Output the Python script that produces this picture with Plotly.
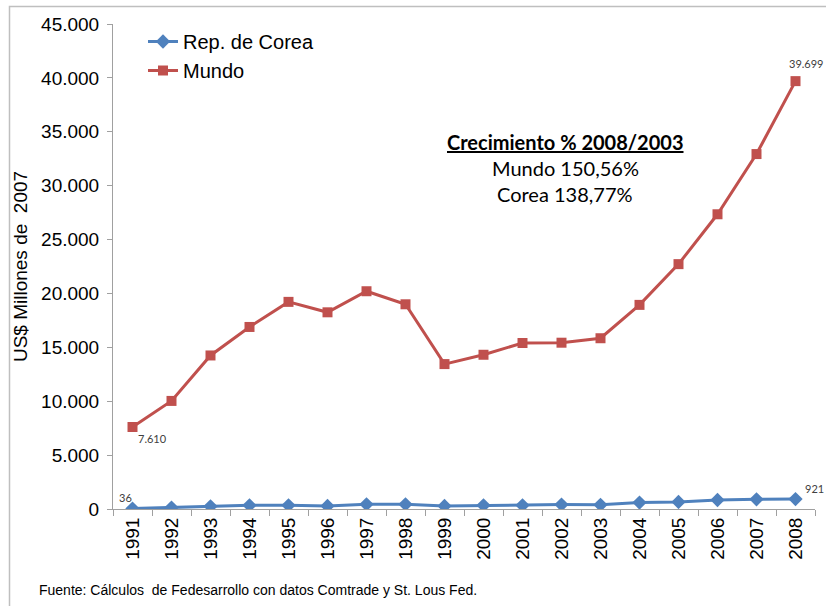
import plotly.graph_objects as go

years = [str(y) for y in range(1991, 2009)]
corea = [36, 130, 250, 345, 345, 280, 437, 437, 280, 345, 345, 410, 386, 595, 650, 837, 900, 921]
mundo = [7610, 10028, 14246, 16890, 19218, 18250, 20205, 18994, 13445, 14311, 15400, 15430,
         15844, 18939, 22719, 27346, 32933, 39699]

W, H = 826, 606
PL, PR, PT, PB = 113, 815, 24, 509          # plot area in pixels
L, T, R, B = PL, PT, W - PR, H - PB
pw, ph = PR - PL, PB - PT


def px(x):
    return (x - PL) / pw


def py(y):
    return (PB - y) / ph


fig = go.Figure()
fig.add_trace(go.Scatter(
    x=years, y=corea, name="Rep. de Corea", mode="lines+markers",
    line=dict(color="#4F81BD", width=3),
    marker=dict(symbol="diamond", size=11, color="#4F81BD"),
))
fig.add_trace(go.Scatter(
    x=years, y=mundo, name="Mundo", mode="lines+markers",
    line=dict(color="#C0504D", width=3),
    marker=dict(symbol="square", size=10, color="#C0504D"),
))

lab_font = dict(family="Lato, DejaVu Sans", size=11, color="#404040")
last = len(years) - 1
fig.add_annotation(x=0, y=mundo[0], text="7.610", showarrow=False,
                   xanchor="center", yanchor="middle", xshift=20, yshift=-12, font=lab_font)
fig.add_annotation(x=0, y=corea[0], text="36", showarrow=False,
                   xanchor="center", yanchor="middle", xshift=-7, yshift=11, font=lab_font)
fig.add_annotation(x=last, y=mundo[-1], text="39.699", showarrow=False,
                   xanchor="center", yanchor="middle", xshift=11, yshift=18, font=lab_font)
fig.add_annotation(x=last, y=corea[-1], text="921", showarrow=False,
                   xanchor="center", yanchor="middle", xshift=19, yshift=11, font=lab_font)

box_font = dict(family="Lato, Open Sans", size=20, color="#000000")
for txt, yy in [("<b><u>Crecimiento % 2008/2003</u></b>", 142),
                ("Mundo 150,56%", 168),
                ("Corea 138,77%", 194)]:
    fig.add_annotation(xref="paper", yref="paper", x=px(565), y=py(yy),
                       xanchor="center", yanchor="middle",
                       text=txt, showarrow=False, font=box_font)

fig.add_annotation(xref="paper", yref="paper", x=px(37), y=py(590),
                   xanchor="left", yanchor="middle",
                   text="Fuente: Cálculos  de Fedesarrollo con datos Comtrade y St. Lous Fed.",
                   showarrow=False,
                   font=dict(family="Arial, Liberation Sans", size=14, color="#000000"))

# outer chart border
fig.add_shape(type="rect", xref="paper", yref="paper",
              x0=px(9.5), x1=px(860), y0=py(640), y1=py(6.5),
              line=dict(color="#BFBFBF", width=1.5), layer="below")

fig.update_layout(
    width=W, height=H,
    margin=dict(l=L, r=R, t=T, b=B, autoexpand=False),
    paper_bgcolor="white", plot_bgcolor="white",
    separators=",.",
    font=dict(family="Arial, Liberation Sans", color="#000000"),
    showlegend=True,
    legend=dict(x=px(143), y=py(22), xanchor="left", yanchor="top",
                font=dict(size=20, family="Arial, Liberation Sans"),
                bgcolor="rgba(0,0,0,0)", itemwidth=30, tracegroupgap=0),
    xaxis=dict(type="category", range=[-0.5, 17.5], showline=True, linecolor="#A0A0A0",
               linewidth=1, ticks="outside", tickson="boundaries", ticklen=6,
               tickcolor="#A0A0A0", tickangle=-90, showgrid=False,
               tickfont=dict(size=19, family="Arial, Liberation Sans")),
    yaxis=dict(range=[0, 45000], dtick=5000, tickformat=",.0f", showline=True,
               linecolor="#A0A0A0", linewidth=1, ticks="outside", ticklen=5,
               tickcolor="#A0A0A0", showgrid=False, zeroline=False,
               ticklabelstandoff=4,
               tickfont=dict(size=19, family="Arial, Liberation Sans"),
               title=dict(text="US$ Millones de  2007", standoff=8,
                          font=dict(size=19, family="Arial, Liberation Sans"))),
)

fig.write_html("out.html", config={"displayModeBar": False},
               post_script="document.body.style.margin='0';document.body.style.overflow='hidden';")
